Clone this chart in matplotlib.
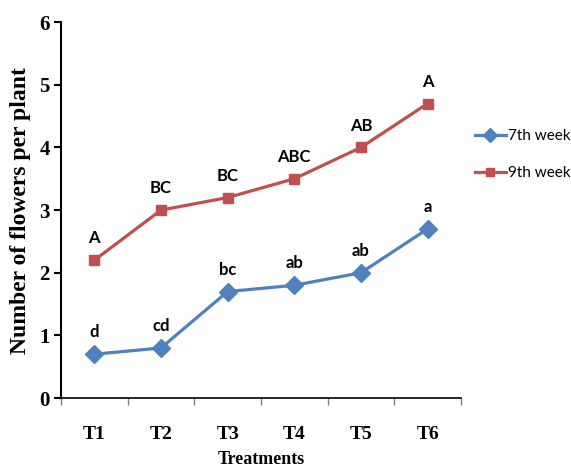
import matplotlib
matplotlib.use('Agg')
import matplotlib.pyplot as plt
import numpy as np

treatments = ['T1', 'T2', 'T3', 'T4', 'T5', 'T6']
week7 = [0.7, 0.8, 1.7, 1.8, 2.0, 2.7]
week9 = [2.2, 3.0, 3.2, 3.5, 4.0, 4.7]
letters7 = ['d', 'cd', 'bc', 'ab', 'ab', 'a']
letters9 = ['A', 'BC', 'BC', 'ABC', 'AB', 'A']

fig = plt.figure(figsize=(5.71, 4.70), dpi=100)
ax = fig.add_axes([0.1068, 0.153, 0.7005, 0.80])

x = np.arange(len(treatments))
ax.plot(x, week7, color='#4F81BD', lw=2.3, marker='D', ms=9, label='7th week')
ax.plot(x, week9, color='#C0504D', lw=2.3, marker='s', ms=7, label='9th week')

# significance letters above the points
for xi, yi, t in zip(x, week7, letters7):
    ax.annotate(t, (xi, yi), xytext=(0, 10), textcoords='offset points',
                ha='center', va='bottom', fontsize=12, fontweight='bold', family='Lato')
for xi, yi, t in zip(x, week9, letters9):
    ax.annotate(t, (xi, yi), xytext=(0, 10), textcoords='offset points',
                ha='center', va='bottom', fontsize=12, fontweight='bold', family='Lato')

ax.set_xlim(-0.5, len(treatments) - 0.5)
ax.set_ylim(0, 6)
ax.set_xticks(x)
ax.set_xticklabels(treatments, fontsize=14, fontweight='bold', family='Liberation Serif')
ax.set_xticks(np.arange(-0.5, len(treatments)), minor=True)
ax.tick_params(axis='x', which='major', length=0, pad=20)
ax.tick_params(axis='x', which='minor', length=5, width=1, color='#808080')
ax.set_yticks(range(7))
ax.set_yticklabels([str(v) for v in range(7)], fontsize=15, fontweight='bold', family='Liberation Serif')
ax.tick_params(axis='y', length=5, width=1.5, pad=3)

ax.spines['top'].set_visible(False)
ax.spines['right'].set_visible(False)
ax.spines['left'].set_linewidth(1.5)
ax.spines['bottom'].set_linewidth(1.2)

ax.set_xlabel('Treatments', fontsize=13, fontweight='bold', family='Liberation Serif', labelpad=6)
ax.set_ylabel('Number of flowers per plant', fontsize=17, fontweight='bold', family='Liberation Serif', labelpad=6)

ax.legend(loc='upper left', bbox_to_anchor=(475 / 571, 0.7255), bbox_transform=fig.transFigure,
          frameon=False, prop={'family': 'Lato', 'size': 11}, handlelength=2.0,
          labelspacing=1.5, handletextpad=0.15, borderpad=0, borderaxespad=0, markerscale=0.8)

plt.savefig('out.png', dpi=100)
